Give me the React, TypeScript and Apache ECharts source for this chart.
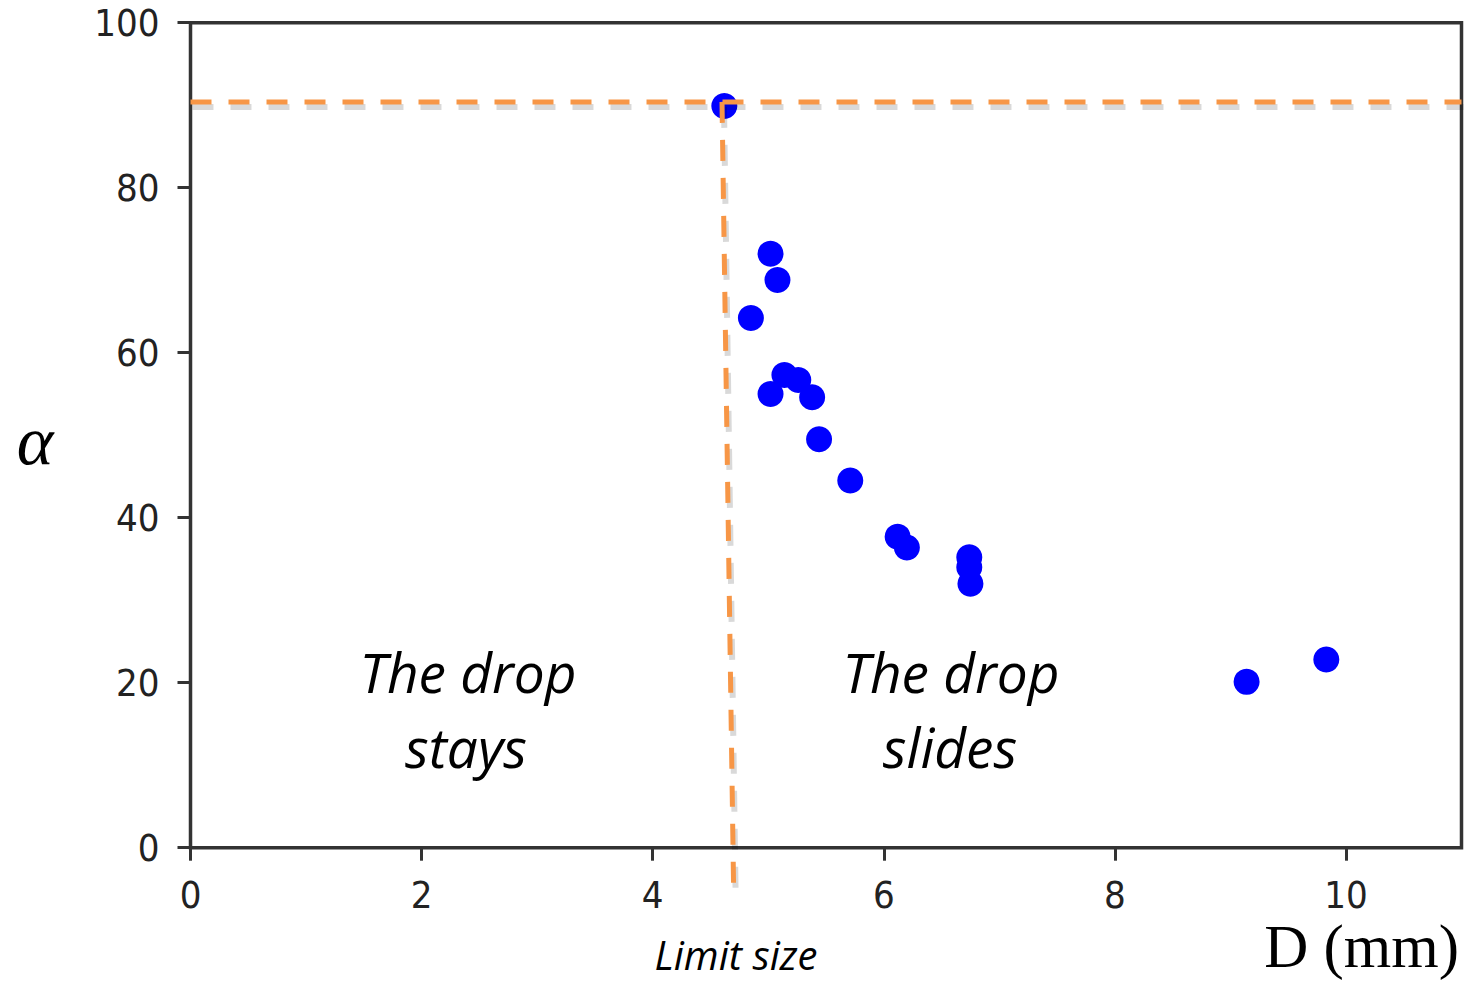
import React, { useEffect, useRef } from "react";
import * as echarts from "echarts";

const dValues = [4.62, 5.02, 5.08, 4.85, 5.02, 5.14, 5.26, 5.38, 5.44, 5.71, 6.12, 6.2, 6.74, 6.74, 6.75, 9.14, 9.83];
const alphaValues = [89.9, 72.0, 68.8, 64.2, 55.0, 57.3, 56.7, 54.6, 49.5, 44.5, 37.7, 36.4, 35.2, 34.0, 32.0, 20.1, 22.8];

const thresholdAlpha = 90.4;
const horizLineX = [0, 11];
const limitLineX = [4.6, 4.7];
const limitLineY = [90.4, -4.5];

const xTicks = [0, 2, 4, 6, 8, 10];
const yTicks = [0, 20, 40, 60, 80, 100];

const ORANGE = "#f79646";
const TICK_FONT = '"DejaVu Sans Condensed", "DejaVu Sans", sans-serif';
const NOTE_FONT = '"Open Sans", "Noto Sans", sans-serif';
const SERIF = '"Liberation Serif", "DejaVu Serif", serif';

export default function App() {
  const ref = useRef<HTMLDivElement>(null);

  useEffect(() => {
    if (!ref.current) return;
    const chart = echarts.init(ref.current, undefined, { renderer: "svg" });
    const dashStyle = { color: ORANGE, width: 5, type: [21, 17] as any };
    const shadowStyle = { color: "rgba(0,0,0,0.15)", width: 6, type: [21, 17] as any };
    // shadow offsets in data units (~2px right, ~5px down)
    const sdx = 2 / 115.8;
    const sdy = 5 / 8.25;
    const option: any = {
      animation: false,
      backgroundColor: "#ffffff",
      grid: {
        left: 190.5,
        top: 22.7,
        right: 3.5,
        bottom: 135.3,
        show: true,
        borderColor: "#333333",
        borderWidth: 3.5,
        backgroundColor: "transparent",
      },
      xAxis: {
        type: "value",
        min: 0,
        max: 11,
        interval: 2,
        axisLine: { show: false },
        splitLine: { show: false },
        axisTick: { show: true, length: 13, lineStyle: { color: "#333333", width: 3 } },
        axisLabel: {
          margin: 28,
          fontFamily: TICK_FONT,
          fontSize: 38,
          color: "#222222",
          showMaxLabel: false,
          formatter: (v: number) => (xTicks.includes(v) ? String(v) : ""),
        },
      },
      yAxis: {
        type: "value",
        min: 0,
        max: 100,
        interval: 20,
        axisLine: { show: false },
        splitLine: { show: false },
        axisTick: { show: true, length: 13, lineStyle: { color: "#333333", width: 3 } },
        axisLabel: {
          margin: 31,
          fontFamily: TICK_FONT,
          fontSize: 38,
          color: "#222222",
          formatter: (v: number) => (yTicks.includes(v) ? String(v) : ""),
        },
      },
      series: [
        {
          type: "scatter",
          data: dValues.map((d, i) => [d, alphaValues[i]]),
          symbol: "circle",
          symbolSize: 26,
          itemStyle: { color: "#0000ff", opacity: 1 },
          z: 2,
        },
        {
          type: "line",
          data: horizLineX.map((x) => [x + sdx, thresholdAlpha - sdy]),
          showSymbol: false,
          symbol: "none",
          lineStyle: shadowStyle,
          z: 3,
        },
        {
          type: "line",
          data: limitLineX.map((x, i) => [x + sdx, limitLineY[i] - sdy]),
          showSymbol: false,
          symbol: "none",
          clip: false,
          lineStyle: shadowStyle,
          z: 3,
        },
        {
          type: "line",
          data: horizLineX.map((x) => [x, thresholdAlpha]),
          showSymbol: false,
          symbol: "none",
          lineStyle: dashStyle,
          z: 4,
        },
        {
          type: "line",
          data: limitLineX.map((x, i) => [x, limitLineY[i]]),
          showSymbol: false,
          symbol: "none",
          clip: false,
          lineStyle: dashStyle,
          z: 4,
        },
      ],
      graphic: [
        {
          type: "text",
          x: 468,
          y: 671,
          style: {
            text: "The drop",
            font: `italic 55px ${NOTE_FONT}`,
            fill: "#000",
            align: "center",
            verticalAlign: "middle",
          },
        },
        {
          type: "text",
          x: 466,
          y: 746,
          style: {
            text: "stays",
            font: `italic 55px ${NOTE_FONT}`,
            fill: "#000",
            align: "center",
            verticalAlign: "middle",
          },
        },
        {
          type: "text",
          x: 951,
          y: 671,
          style: {
            text: "The drop",
            font: `italic 55px ${NOTE_FONT}`,
            fill: "#000",
            align: "center",
            verticalAlign: "middle",
          },
        },
        {
          type: "text",
          x: 950,
          y: 746,
          style: {
            text: "slides",
            font: `italic 55px ${NOTE_FONT}`,
            fill: "#000",
            align: "center",
            verticalAlign: "middle",
          },
        },
        {
          type: "text",
          x: 736,
          y: 954,
          style: {
            text: "Limit size",
            font: `italic 40px ${NOTE_FONT}`,
            fill: "#000",
            align: "center",
            verticalAlign: "middle",
          },
        },
        {
          type: "text",
          x: 1459,
          y: 946,
          style: {
            text: "D (mm)",
            font: `61px ${SERIF}`,
            fill: "#000",
            align: "right",
            verticalAlign: "middle",
          },
        },
        {
          type: "text",
          x: 35,
          y: 440,
          style: {
            text: "α",
            font: `italic 70px ${SERIF}`,
            fill: "#000",
            align: "center",
            verticalAlign: "middle",
          },
        },
      ],
    };
    chart.setOption(option);
    return () => chart.dispose();
  }, []);

  return (
    <div
      ref={ref}
      style={{ position: "fixed", left: 0, top: 0, width: 1465, height: 983, background: "#fff" }}
    />
  );
}
